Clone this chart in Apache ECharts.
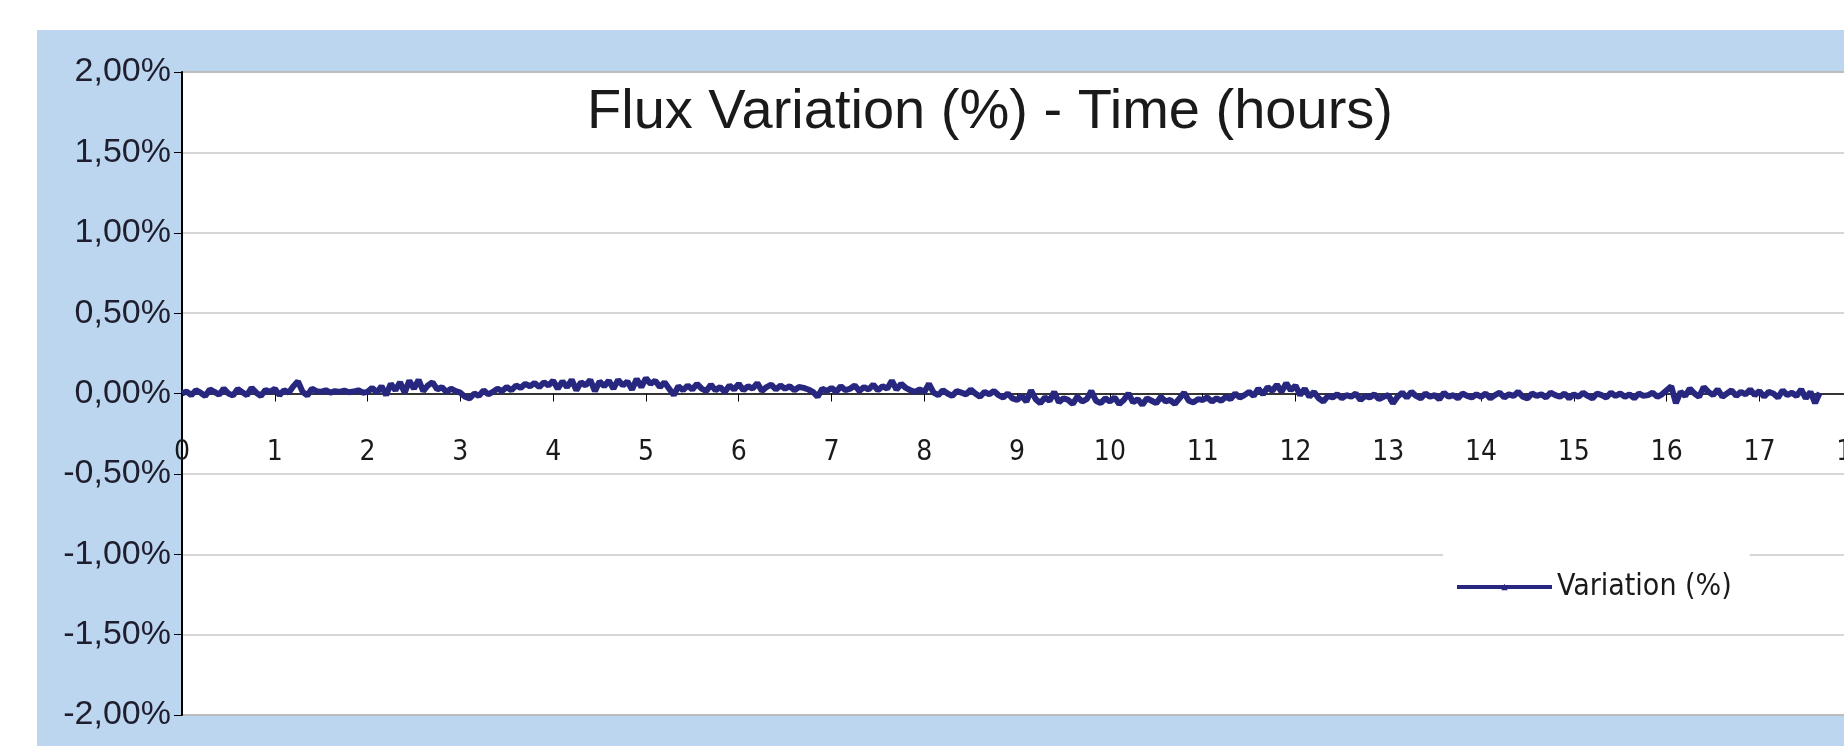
<!DOCTYPE html>
<html>
<head>
<meta charset="utf-8">
<title>Flux Variation</title>
<script src="https://cdn.jsdelivr.net/npm/echarts@6/dist/echarts.min.js"></script>
<style>
  html, body { margin: 0; padding: 0; background: #ffffff; }
  #chart { width: 1844px; height: 746px; }
</style>
</head>
<body>
<div id="chart"></div>
<script>
// sampling step of the logger, in hours
const stepHours = 0.05;

// flux variation in %, one value per sample
const variation = [
  // hour 0
  0.000, 0.012, -0.010, 0.020, 0.005, -0.015, 0.025, 0.010, -0.008, 0.030,
  0.000, -0.012, 0.028, 0.008, -0.010, 0.035, 0.005, -0.015, 0.022, 0.010,
  // hour 1
  0.030, -0.010, 0.020, 0.005, 0.045, 0.075, 0.010, -0.012, 0.030, 0.015,
  0.010, 0.020, 0.005, 0.015, 0.010, 0.018, 0.008, 0.012, 0.020, 0.005,
  // hour 2
  0.010, 0.035, 0.005, 0.045, -0.010, 0.060, 0.020, 0.070, 0.005, 0.080,
  0.030, 0.085, 0.015, 0.050, 0.070, 0.025, 0.040, 0.010, 0.030, 0.015,
  // hour 3
  0.005, -0.020, -0.030, 0.000, -0.015, 0.020, -0.005, 0.010, 0.030, 0.015,
  0.040, 0.020, 0.050, 0.035, 0.060, 0.045, 0.065, 0.040, 0.070, 0.050,
  // hour 4
  0.080, 0.030, 0.075, 0.040, 0.085, 0.020, 0.070, 0.050, 0.085, 0.015,
  0.075, 0.045, 0.080, 0.030, 0.085, 0.050, 0.075, 0.025, 0.090, 0.040,
  // hour 5
  0.095, 0.060, 0.080, 0.040, 0.070, 0.030, -0.010, 0.045, 0.020, 0.050,
  0.025, 0.060, 0.030, 0.015, 0.055, 0.020, 0.040, 0.010, 0.050, 0.025,
  // hour 6
  0.060, 0.020, 0.045, 0.030, 0.065, 0.015, 0.040, 0.055, 0.025, 0.050,
  0.030, 0.045, 0.020, 0.040, 0.035, 0.025, 0.010, -0.020, 0.030, 0.015,
  // hour 7
  0.035, 0.010, 0.045, 0.020, 0.030, 0.050, 0.015, 0.040, 0.025, 0.055,
  0.020, 0.045, 0.030, 0.080, 0.025, 0.060, 0.035, 0.020, 0.010, 0.025,
  // hour 8
  0.010, 0.060, 0.005, -0.010, 0.020, 0.000, -0.015, 0.015, 0.005, -0.005,
  0.025, 0.000, -0.020, 0.010, -0.005, 0.015, -0.010, -0.025, 0.000, -0.030,
  // hour 9
  -0.040, -0.015, -0.050, 0.020, -0.035, -0.060, -0.025, -0.045, 0.010, -0.055,
  -0.030, -0.040, -0.065, -0.020, -0.050, -0.035, 0.015, -0.045, -0.060, -0.030,
  // hour 10
  -0.050, -0.025, -0.065, -0.040, 0.000, -0.055, -0.035, -0.070, -0.030, -0.045,
  -0.060, -0.020, -0.050, -0.040, -0.065, -0.030, 0.005, -0.045, -0.055, -0.035,
  // hour 11
  -0.040, -0.025, -0.050, -0.030, -0.045, -0.020, -0.035, 0.000, -0.025, -0.010,
  0.010, -0.015, 0.030, -0.005, 0.040, 0.015, 0.055, 0.010, 0.065, 0.020,
  // hour 12
  0.050, -0.010, 0.030, -0.020, 0.010, -0.030, -0.050, -0.015, -0.025, -0.005,
  -0.030, -0.010, -0.020, 0.000, -0.040, -0.015, -0.025, -0.005, -0.035, -0.020,
  // hour 13
  -0.010, -0.060, -0.020, 0.005, -0.025, 0.010, -0.015, -0.030, 0.000, -0.020,
  -0.010, -0.035, 0.005, -0.020, -0.010, -0.030, 0.000, -0.015, -0.025, -0.005,
  // hour 14
  -0.020, 0.000, -0.030, -0.010, 0.005, -0.025, -0.005, -0.015, 0.010, -0.020,
  -0.030, 0.000, -0.015, -0.005, -0.025, 0.005, -0.010, -0.020, 0.000, -0.030,
  // hour 15
  -0.005, -0.020, 0.005, -0.015, -0.030, 0.000, -0.010, -0.025, 0.005, -0.015,
  0.000, -0.020, -0.005, -0.030, 0.000, -0.015, -0.010, 0.005, -0.020, -0.005,
  // hour 16
  0.020, 0.045, -0.060, 0.010, -0.015, 0.030, 0.000, -0.020, 0.040, 0.010,
  -0.010, 0.025, -0.020, 0.000, 0.020, -0.015, 0.010, -0.005, 0.025, -0.010,
  // hour 17
  0.015, -0.020, 0.010, 0.000, -0.025, 0.020, -0.010, 0.005, -0.015, 0.025,
  -0.030, 0.010, -0.060, 0.005
];

const seriesName = "Variation (%)";
const titleText = "Flux Variation (%) - Time (hours)";

var points = [];
variation.forEach((v, i) => points.push([i * stepHours, v]));

const narrowFont = "'Liberation Sans Narrow', 'DejaVu Sans Condensed', 'Arial Narrow', sans-serif";
const plainFont = "'Liberation Sans', Arial, sans-serif";

// plot box in pixels (the right side runs past the picture, as in the original)
const plotTop = 72;
const plotHeight = 643;

var myChart = echarts.init(document.getElementById("chart"));

const options = {
  animation: false,
  graphic: [
    {
      type: "rect",
      z: -10,
      shape: { x: 37, y: 30, width: 1807, height: 716 },
      style: { fill: "#bcd6ef" },
    },
  ],
  title: {
    text: titleText,
    left: 582,
    top: 80,
    textStyle: {
      fontFamily: plainFont,
      fontSize: 56,
      fontWeight: "normal",
      color: "#1a1a1a",
    },
  },
  legend: {
    data: [seriesName],
    left: 1443,
    top: 550,
    backgroundColor: "#ffffff",
    padding: [22, 18, 22, 12],
    itemWidth: 95,
    itemHeight: 8,
    lineStyle: { width: 4 },
    textStyle: {
      fontFamily: narrowFont,
      fontSize: 30,
      color: "#1a1a1a",
    },
  },
  grid: {
    show: true,
    left: 182,
    top: plotTop,
    width: 1763,
    height: plotHeight,
    containLabel: false,
    outerBoundsMode: "none",
    backgroundColor: "#ffffff",
    borderColor: "#808080",
    borderWidth: 1.5,
  },
  xAxis: [
    {
      // the axis line crossing at 0 %, with its ticks
      type: "value",
      min: 0,
      max: 19,
      interval: 1,
      axisLine: { onZero: true, lineStyle: { color: "#000000", width: 1.5 } },
      axisTick: { show: true, length: 8, lineStyle: { color: "#000000" } },
      axisLabel: { show: false },
      splitLine: { show: false },
    },
    {
      // hour labels just under the zero line
      type: "value",
      min: 0,
      max: 19,
      interval: 1,
      position: "bottom",
      offset: -(plotHeight / 2) - 8,
      axisLine: { show: false, onZero: false },
      axisTick: { show: false },
      axisLabel: {
        margin: 53,
        fontFamily: narrowFont,
        fontSize: 28,
        color: "#1a1a1a",
      },
      splitLine: { show: false },
    },
  ],
  yAxis: {
    type: "value",
    min: -2,
    max: 2,
    interval: 0.5,
    axisLine: { show: true, lineStyle: { color: "#000000", width: 2 } },
    axisTick: { show: true, length: 8, lineStyle: { color: "#000000" } },
    axisLabel: {
      margin: 11,
      fontFamily: plainFont,
      fontSize: 34,
      color: "#1e1e2e",
      formatter: (v) => v.toFixed(2).replace(".", ",") + "%",
    },
    splitLine: { lineStyle: { color: "#c8c8c8", width: 1.5 } },
  },
  series: [
    {
      name: seriesName,
      type: "line",
      data: points,
      symbol: "triangle",
      symbolSize: 8,
      showSymbol: false,
      lineStyle: { color: "#27277f", width: 6 },
      itemStyle: { color: "#27277f" },
    },
  ],
};
myChart.setOption(options);
</script>
</body>
</html>
